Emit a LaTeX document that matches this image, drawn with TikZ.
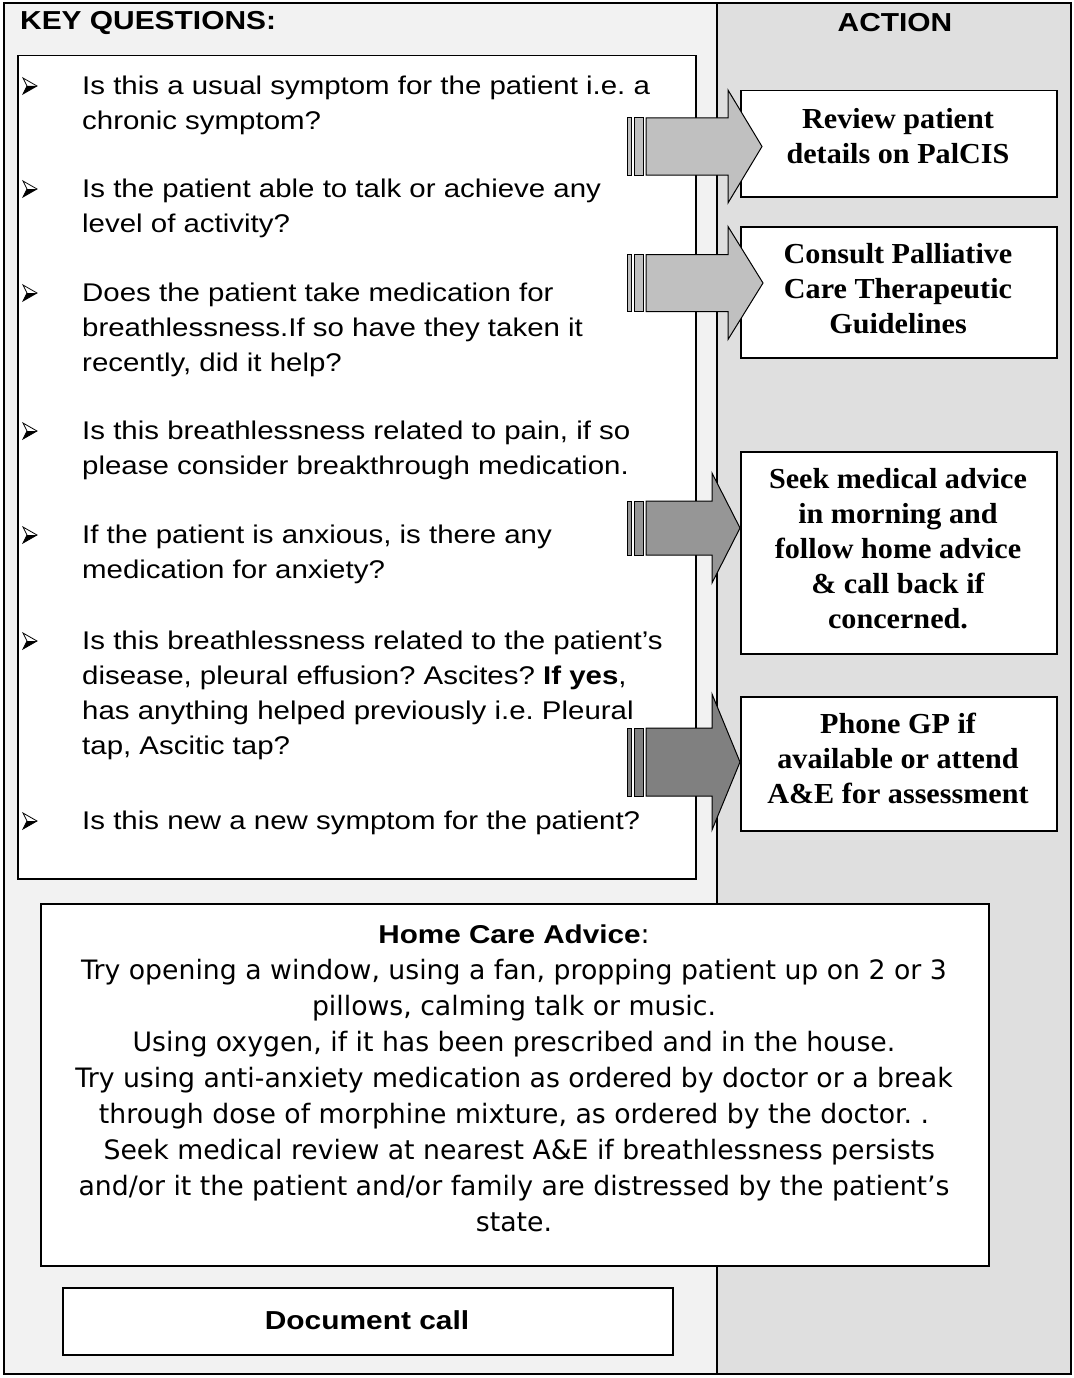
\documentclass[tikz,border=0pt]{standalone}
\usepackage{fontspec}
\setmainfont{Liberation Sans}
\newfontfamily\qfont[FakeStretch=1.15]{Liberation Sans}
\newfontfamily\afont[FakeStretch=1.04]{Liberation Serif}
\newfontfamily\hfont{DejaVu Sans}
\definecolor{leftbg}{HTML}{F2F2F2}
\definecolor{rightbg}{HTML}{DFDFDF}
\definecolor{arrowlight}{HTML}{C0C0C0}
\definecolor{arrowmid}{HTML}{969696}
\definecolor{arrowdark}{HTML}{808080}
\frenchspacing

% striped block arrow: fill, centre y, body half height, head half height, head base x, tip x
\newcommand\blockarr[6]{%
  \filldraw[fill=#1, draw=black, line width=1pt] ({627},{#2-#3}) rectangle ({631},{#2+#3});
  \filldraw[fill=#1, draw=black, line width=1pt] ({634},{#2-#3}) rectangle ({643},{#2+#3});
  \filldraw[fill=#1, draw=black, line width=1pt, line join=miter]
    ({646},{#2-#3}) -- ({#5},{#2-#3}) -- ({#5},{#2-#4}) -- ({#6},{#2})
    -- ({#5},{#2+#4}) -- ({#5},{#2+#3}) -- ({646},{#2+#3}) -- cycle;
}

\begin{document}
\begin{tikzpicture}[x=1pt,y=-1pt,
  frame/.style={draw=black, line width=2pt},
  panel/.style={draw=black, line width=1.5pt, fill=white, inner sep=0pt, anchor=north west},
  qtext/.style={font=\qfont\fontsize{25.6}{35}\selectfont, align=left, inner sep=0pt, anchor=north west},
  atext/.style={font=\afont\bfseries\fontsize{29}{35}\selectfont, align=center, inner sep=0pt},
  htext/.style={font=\hfont\fontsize{26.7}{36}\selectfont, align=center, inner sep=0pt, anchor=north},
  title/.style={font=\qfont\bfseries\fontsize{26}{30}\selectfont, inner sep=0pt},
  qbullet/.pic={
    \fill[black] (7,0) -- (-3,0) -- (-7,8) -- cycle;
    \draw[black, line width=0.8pt, line join=miter] (7,0) -- (-7,-8) -- (-3,0) -- (-7,8) -- cycle;
  }
]
\useasboundingbox (0,0) rectangle (1073,1378);

% column backgrounds, outer frame and column divider
\fill[leftbg] (4,3) rectangle (717,1374);
\fill[rightbg] (717,3) rectangle (1071,1374);
\draw[frame] (4,3) rectangle (1071,1374);
\draw[frame] (717,3) -- (717,1374);

% boxes
\node[panel, minimum width=678pt, minimum height=823pt] (qbox) at (17,55) {};
\node[panel, minimum width=316pt, minimum height=106pt] (a1) at (740,90) {};
\node[panel, minimum width=316pt, minimum height=131pt] (a2) at (740,226) {};
\node[panel, minimum width=316pt, minimum height=202pt] (a3) at (740,451) {};
\node[panel, minimum width=316pt, minimum height=134pt] (a4) at (740,696) {};
\node[panel, minimum width=948pt, minimum height=362pt] (home) at (40,903) {};
\node[panel, minimum width=610pt, minimum height=67pt] (doc) at (62,1287) {};

% block arrows into the action boxes
\blockarr{arrowlight}{146.5}{28.5}{56.5}{728}{762}
\blockarr{arrowlight}{283}{28.5}{56.5}{728}{763}
\blockarr{arrowmid}{528}{27}{55}{712}{740}
\blockarr{arrowdark}{762}{34}{68}{712}{740}

% headings
\node[title, anchor=west] (kq) at (20,23) {KEY QUESTIONS:};
\node[title] (act) at (895,23) {ACTION};

% key questions
\pic (b1) at (30,86) {qbullet};
\node[qtext] (q1) at (82,76) {Is this a usual symptom for the patient i.e. a\\chronic symptom?};
\pic (b2) at (30,189) {qbullet};
\node[qtext] (q2) at (82,179) {Is the patient able to talk or achieve any\\level of activity?};
\pic (b3) at (30,293) {qbullet};
\node[qtext] (q3) at (82,283) {Does the patient take medication for\\breathlessness.If so have they taken it\\recently, did it help?};
\pic (b4) at (30,431) {qbullet};
\node[qtext] (q4) at (82,421) {Is this breathlessness related to pain, if so\\please consider breakthrough medication.};
\pic (b5) at (30,535) {qbullet};
\node[qtext] (q5) at (82,525) {If the patient is anxious, is there any\\medication for anxiety?};
\pic (b6) at (30,641) {qbullet};
\node[qtext] (q6) at (82,631) {Is this breathlessness related to the patient’s\\disease, pleural effusion? Ascites? \textbf{If yes},\\has anything helped previously i.e. Pleural\\tap, Ascitic tap?};
\pic (b7) at (30,821) {qbullet};
\node[qtext] (q7) at (82,811) {Is this new a new symptom for the patient?};

% actions
\node[atext] (t1) at (898,136) {Review patient\\details on PalCIS};
\node[atext] (t2) at (898,289) {Consult Palliative\\Care Therapeutic\\Guidelines};
\node[atext] (t3) at (898,549) {Seek medical advice\\in morning and\\follow home advice\\\& call back if\\concerned.};
\node[atext] (t4) at (898,758) {Phone GP if\\available or attend\\A\&E for assessment};

% home care advice
\node[htext] (ht) at (514,925) {{\qfont\bfseries\fontsize{25.8}{36}\selectfont Home Care Advice}:\\
Try opening a window, using a fan, propping patient up on 2 or 3\\
pillows, calming talk or music.\\
Using oxygen, if it has been prescribed and in the house.\\
Try using anti-anxiety medication as ordered by doctor or a break\\
through dose of morphine mixture, as ordered by the doctor. .\\
\hspace*{0.4em}Seek medical review at nearest A\&E if breathlessness persists\\
and/or it the patient and/or family are distressed by the patient’s\\
state.};

% document call
\node[title] (dc) at (367,1320) {Document call};
\end{tikzpicture}
\end{document}
